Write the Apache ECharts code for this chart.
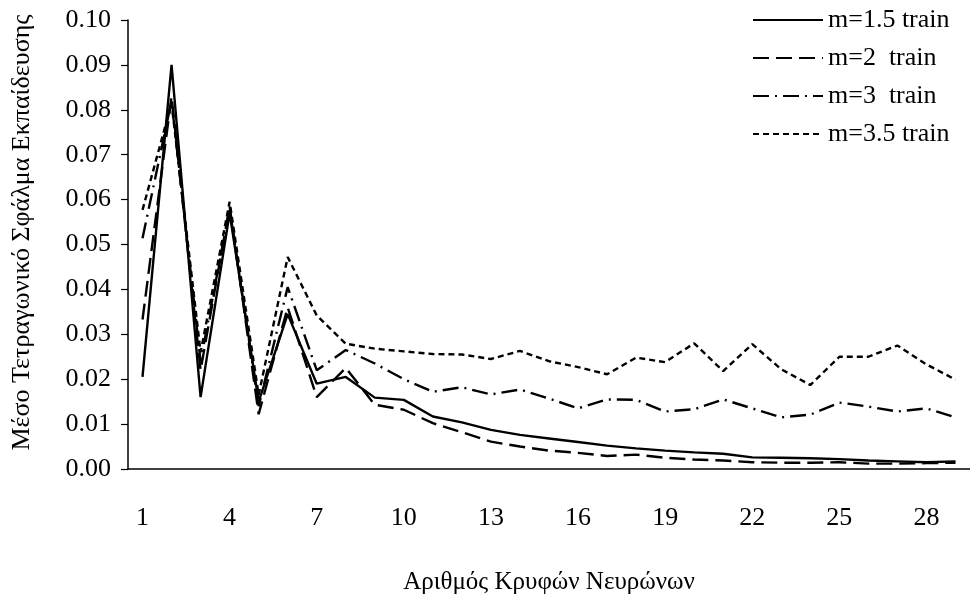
<!DOCTYPE html>
<html>
<head>
<meta charset="utf-8">
<script src="https://cdn.jsdelivr.net/npm/echarts@6/dist/echarts.min.js"></script>
<style>
  html, body { margin: 0; padding: 0; background: #fff; }
  #chart { width: 970px; height: 600px; }
</style>
</head>
<body>
<div id="chart"></div>
<script>
// Hidden-neuron counts (x categories)
const neurons = [];
for (let n = 1; n <= 29; n++) neurons.push(String(n));

// Mean squared training error for each fuzziness exponent m
const m15 = [0.0205, 0.0900, 0.0160, 0.0570, 0.0150, 0.0345, 0.0190, 0.0205, 0.0159, 0.0154,
             0.0117, 0.0104, 0.0087, 0.0076, 0.0068, 0.0060, 0.0052, 0.0046, 0.0041, 0.0037,
             0.0034, 0.0026, 0.0025, 0.0024, 0.0022, 0.0019, 0.0017, 0.0015, 0.0017];
const m2  = [0.0333, 0.0830, 0.0220, 0.0585, 0.0122, 0.0360, 0.0160, 0.0225, 0.0143, 0.0132,
             0.0102, 0.0082, 0.0061, 0.0050, 0.0041, 0.0036, 0.0029, 0.0032, 0.0025, 0.0021,
             0.0019, 0.0015, 0.0014, 0.0014, 0.0015, 0.0012, 0.0012, 0.0013, 0.0014];
const m3  = [0.0514, 0.0820, 0.0240, 0.0580, 0.0140, 0.0405, 0.0220, 0.0265, 0.0235, 0.0200,
             0.0172, 0.0182, 0.0166, 0.0177, 0.0157, 0.0135, 0.0155, 0.0154, 0.0128, 0.0133,
             0.0155, 0.0135, 0.0115, 0.0121, 0.0148, 0.0139, 0.0128, 0.0135, 0.0115];
const m35 = [0.0577, 0.0815, 0.0260, 0.0595, 0.0165, 0.0472, 0.0342, 0.0279, 0.0268, 0.0262,
             0.0256, 0.0255, 0.0245, 0.0263, 0.0240, 0.0227, 0.0211, 0.0248, 0.0238, 0.0280,
             0.0218, 0.0278, 0.0222, 0.0187, 0.0250, 0.0250, 0.0275, 0.0233, 0.0199];

const seriesNames = ['m=1.5 train', 'm=2  train', 'm=3  train', 'm=3.5 train'];
const seriesData = [m15, m2, m3, m35];
const dashes = ['solid', [16, 7], [16, 6, 2, 6], [6, 4]];

const FONT = 'Liberation Serif';

const chart = echarts.init(document.getElementById('chart'), null, { renderer: 'canvas' });

chart.setOption({
  backgroundColor: '#ffffff',
  animation: false,
  textStyle: { fontFamily: FONT, color: '#000' },
  grid: { left: 128, top: 20, bottom: 127, right: -9, containLabel: false },
  legend: {
    orient: 'vertical',
    left: 747,
    top: 2,
    itemWidth: 70,
    itemHeight: 14,
    itemGap: 12,
    itemStyle: { opacity: 0 },
    textStyle: { fontFamily: FONT, fontSize: 26, color: '#000' },
    data: seriesNames
  },
  xAxis: {
    type: 'category',
    data: neurons,
    boundaryGap: true,
    name: 'Αριθμός Κρυφών Νευρώνων',
    nameLocation: 'middle',
    nameGap: 101,
    nameTextStyle: { fontFamily: FONT, fontSize: 25, color: '#000' },
    axisLine: { lineStyle: { color: '#000', width: 1.5 } },
    axisTick: { interval: 2, length: 7, lineStyle: { color: '#000', width: 1.2 } },
    axisLabel: { interval: 2, margin: 36, fontFamily: FONT, fontSize: 26, color: '#000' },
    splitLine: { show: false }
  },
  yAxis: {
    type: 'value',
    min: 0,
    max: 0.1,
    interval: 0.01,
    name: 'Μέσο Τετραγωνικό Σφάλμα Εκπαίδευσης',
    nameLocation: 'middle',
    nameGap: 93,
    nameTextStyle: { fontFamily: FONT, fontSize: 26, color: '#000', padding: [0, 0, 0, 24] },
    axisLine: { show: true, lineStyle: { color: '#000', width: 1.5 } },
    axisTick: { show: true, length: 7, lineStyle: { color: '#000', width: 1.2 } },
    axisLabel: {
      margin: 17, fontFamily: FONT, fontSize: 26, color: '#000',
      formatter: v => v.toFixed(2)
    },
    splitLine: { show: false }
  },
  series: seriesNames.map((name, i) => ({
    name,
    type: 'line',
    data: seriesData[i],
    symbol: 'none',
    itemStyle: { color: '#000' },
    lineStyle: { color: '#000', width: 2.4, type: dashes[i] }
  }))
});
</script>
</body>
</html>
